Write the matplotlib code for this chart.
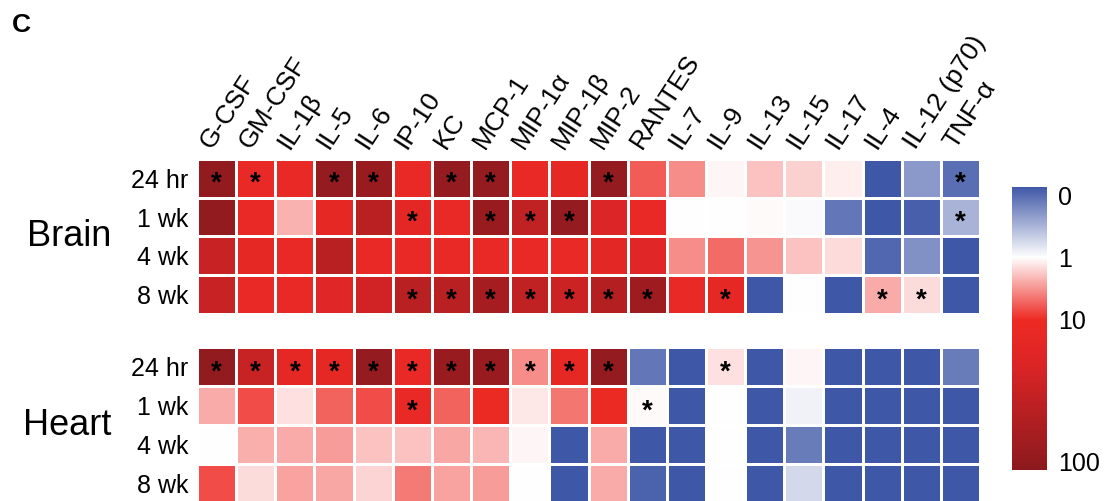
import numpy as np
import matplotlib.pyplot as plt
from matplotlib.colors import LinearSegmentedColormap

plt.rcParams['font.family'] = ['Liberation Sans', 'DejaVu Sans']

cytokines = ['G-CSF', 'GM-CSF', 'IL-1β', 'IL-5', 'IL-6', 'IP-10', 'KC', 'MCP-1',
             'MIP-1α', 'MIP-1β', 'MIP-2', 'RANTES', 'IL-7', 'IL-9', 'IL-13',
             'IL-15', 'IL-17', 'IL-4', 'IL-12 (p70)', 'TNF-α']
times = ['24 hr', '1 wk', '4 wk', '8 wk']

# fold change, rows = times
brain = np.array([
    [90, 12, 12, 85, 80, 12, 85, 85, 12, 14, 85, 6, 3.5, 1.1, 2, 1.7, 1.2, 0, 0.4, 0.15],
    [90, 13, 2.3, 14, 40, 15, 13, 80, 35, 85, 20, 13, 1.0, 1.0, 1.05, 0.97, 0.2, 0, 0.05, 0.55],
    [30, 14, 13, 40, 13, 12, 12, 12, 12, 12, 16, 18, 3.5, 5, 3.2, 2, 1.5, 0.1, 0.35, 0],
    [30, 13, 13, 18, 25, 40, 40, 60, 35, 28, 45, 70, 12, 14, 0, 1.0, 0, 2.5, 1.5, 0],
])
heart = np.array([
    [90, 30, 14, 14, 85, 13, 80, 80, 3.5, 14, 85, 0.2, 0, 1.4, 0, 1.1, 0, 0, 0, 0.22],
    [2.5, 7, 1.4, 5.5, 7, 12, 5.5, 11, 1.3, 4.5, 11, 1.05, 0, 1.0, 0, 0.93, 0, 0, 0, 0],
    [1.0, 2.4, 2.5, 3, 2, 2, 2.6, 2.2, 1.1, 0, 2.5, 0, 0, 1.02, 0, 0.22, 0, 0, 0, 0],
    [7, 1.5, 2.7, 2.6, 1.6, 4.3, 2.7, 3, 1.0, 0, 2.5, 0.07, 0, 1.0, 0, 0.78, 0, 0, 0, 0],
])
brain_sig = [(0, 0), (0, 1), (0, 3), (0, 4), (0, 6), (0, 7), (0, 10), (0, 19),
             (1, 5), (1, 7), (1, 8), (1, 9), (1, 19),
             (3, 5), (3, 6), (3, 7), (3, 8), (3, 9), (3, 10), (3, 11), (3, 13), (3, 17), (3, 18)]
heart_sig = [(0, 0), (0, 1), (0, 2), (0, 3), (0, 4), (0, 5), (0, 6), (0, 7), (0, 8),
             (0, 9), (0, 10), (0, 13), (1, 5), (1, 11)]

cbar_ticks = [0, 1, 10, 100]

cmap = LinearSegmentedColormap.from_list('bwr_fold', [
    (0.0, '#3F57A7'), (0.25, '#FFFFFF'), (0.47, '#EE2B24'),
    (0.62, '#DE2526'), (1.0, '#8C1A1E')])


def to_s(v):
    v = np.asarray(v, dtype=float)
    lo = 0.25 * v
    hi = np.interp(np.log10(np.maximum(v, 1)), [0, 1, 2], [0.25, 0.47, 1.0])
    return np.where(v < 1, lo, hi)


fig = plt.figure(figsize=(11.07, 5.01), dpi=100)
ax_b = fig.add_axes([0.178, 0.373, 0.7073, 0.310])
ax_h = fig.add_axes([0.178, -0.004, 0.7073, 0.311])

for ax, data, sig, name in [(ax_b, brain, brain_sig, 'Brain'), (ax_h, heart, heart_sig, 'Heart')]:
    ax.pcolormesh(to_s(data), cmap=cmap, vmin=0, vmax=1, edgecolors='white', linewidth=0.8)
    ax.set_xlim(0, len(cytokines))
    ax.set_ylim(len(times), 0)
    for r, c in sig:
        ax.text(c + 0.5, r + 0.83, '*', ha='center', va='baseline', fontsize=20,
                fontweight='bold', color='black')
    ax.set_yticks(np.arange(len(times)) + 0.5)
    ax.set_yticklabels(times, fontsize=18)
    ax.tick_params(axis='y', length=0, pad=6)
    ax.set_xticks([])
    for s in ax.spines.values():
        s.set_visible(False)
    ax.text(-0.11, 0.5, name, transform=ax.transAxes, ha='right', va='center', fontsize=26)

for i, lab in enumerate(cytokines):
    ax_b.text(i + 0.36, -0.22, lab, rotation=57, rotation_mode='anchor',
              ha='left', va='baseline', fontsize=19)

# colorbar
cax = fig.add_axes([0.914, 0.062, 0.0316, 0.565])
grad = np.linspace(0, 1, 256).reshape(-1, 1)
cax.imshow(grad, aspect='auto', cmap=cmap, extent=[0, 1, 1, 0])
cax.set_xticks([])
cax.yaxis.tick_right()
cax.set_yticks(np.minimum(to_s(cbar_ticks), 0.97) + np.array([0.03, 0, 0, 0]))
cax.set_yticklabels([str(t) for t in cbar_ticks], fontsize=18)
cax.tick_params(axis='y', length=0, pad=8)
for s in cax.spines.values():
    s.set_visible(False)

fig.text(0.011, 0.95, 'C', fontsize=19, fontweight='bold', va='center', ha='left')

fig.savefig('out.png', dpi=100)
